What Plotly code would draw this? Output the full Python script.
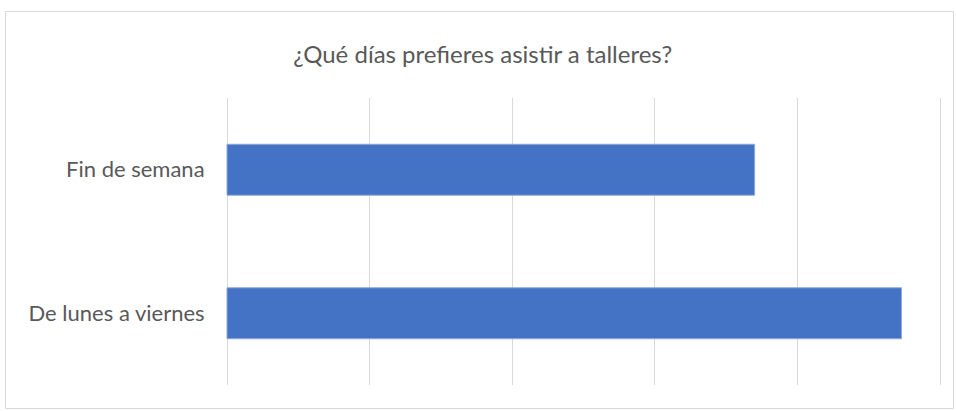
import plotly.graph_objects as go

categories = ["De lunes a viernes", "Fin de semana"]
values = [47.3, 37]
title_text = "¿Qué días prefieres asistir a talleres?"

W, H = 956, 411
ml, mr, mt, mb = 225, 14, 98, 26
pw, ph = W - ml - mr, H - mt - mb

FONT = "Lato, Open Sans, sans-serif"

fig = go.Figure(go.Bar(
    y=categories, x=values, orientation="h",
    marker=dict(color="#4472C4", line=dict(color="#8EA9DB", width=1)),
    hoverinfo="skip",
))

def px_x(v):
    return (v - ml) / pw

def px_y(v):
    return 1 - (v - mt) / ph

fig.update_layout(
    width=W, height=H,
    margin=dict(l=ml, r=mr, t=mt, b=mb),
    paper_bgcolor="white", plot_bgcolor="white",
    bargap=0.645,
    showlegend=False,
    title=dict(text=title_text, x=0.505, xref="container", xanchor="center",
               y=1 - 55 / H, yref="container", yanchor="middle",
               font=dict(family=FONT, size=24, color="#595959")),
    xaxis=dict(range=[-0.14, 50.14], tick0=0, dtick=10, showticklabels=False, showgrid=True,
               gridcolor="#D9D9D9", gridwidth=1, zeroline=False, showline=False,
               fixedrange=True),
    yaxis=dict(showgrid=False, zeroline=False, showline=False, ticks="outside",
               ticklen=15, tickcolor="rgba(0,0,0,0)",
               tickfont=dict(family=FONT, size=22, color="#595959"),
               fixedrange=True),
    shapes=[dict(type="rect", xref="paper", yref="paper",
                 x0=px_x(5.5), x1=px_x(953.5), y0=px_y(408.5), y1=px_y(11.5),
                 line=dict(color="#D9D9D9", width=1), fillcolor="rgba(0,0,0,0)",
                 layer="below")],
)

fig.write_html("out.html", config={"displayModeBar": False},
               post_script="document.body.style.margin='0';document.body.style.overflow='hidden';")
